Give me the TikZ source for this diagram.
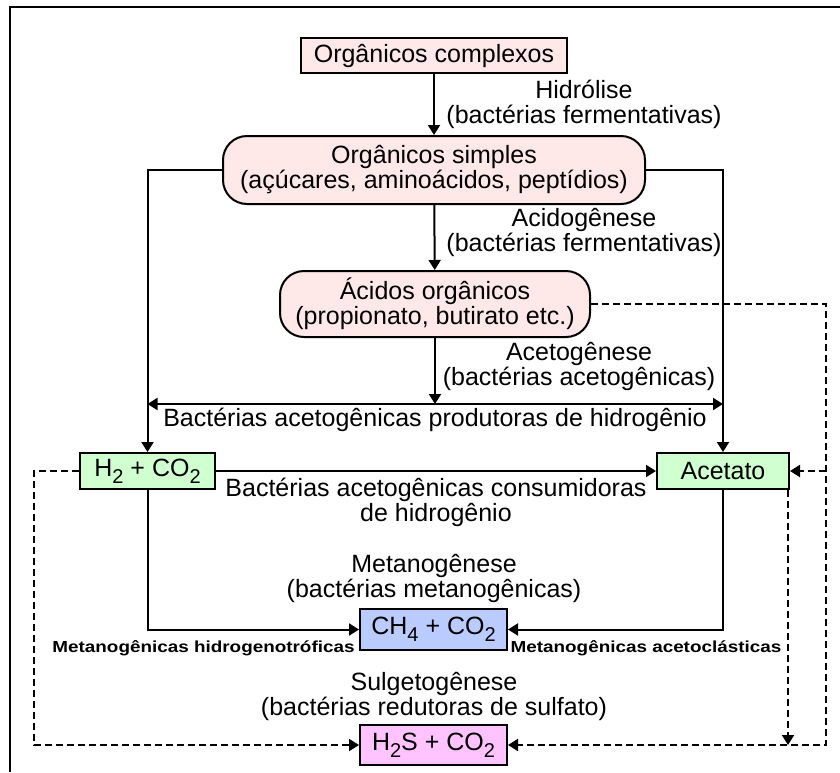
\documentclass[tikz,border=0pt]{standalone}
\usepackage{fontspec}
\setmainfont{Liberation Sans}
\newfontfamily\tagfont[FakeStretch=1.18]{Liberation Sans Bold}
\usetikzlibrary{arrows.meta,positioning,calc}
\definecolor{pinkfill}{RGB}{255,232,232}
\definecolor{greenfill}{RGB}{208,255,208}
\definecolor{bluefill}{RGB}{186,204,255}
\definecolor{magfill}{RGB}{255,196,255}
\newcommand{\lowsub}[1]{\raisebox{-0.5ex}{\fontsize{10}{10}\selectfont #1}}

\begin{document}
\begin{tikzpicture}[x=0.5pt, y=-0.5pt,
    every node/.style={font=\fontsize{12.5}{12.5}\selectfont, align=center},
    box/.style={draw, line width=1pt, inner sep=0pt},
    rbox/.style={box, rounded corners=12pt},
    lbl/.style={inner sep=0pt},
    tag/.style={inner sep=0pt, font=\tagfont\fontsize{8}{8}\selectfont},
    flow/.style={line width=1pt, -{Triangle[length=5pt,width=6pt]}},
    side/.style={flow, dash pattern=on 3.5pt off 2pt}]
    \useasboundingbox (0,0) rectangle (840,772);
    % frame
    \draw[line width=1pt] (10,772) -- (10,7) -- (840,7);
    % substrates and products
    \node[box, fill=pinkfill, minimum width=133pt, minimum height=17.5pt] (cplx) at (434,55.5) {Orgânicos complexos};
    \node[rbox, fill=pinkfill, minimum width=211pt, minimum height=34pt] (simp) at (434,170) {Orgânicos simples\\(açúcares, aminoácidos, peptídios)};
    \node[rbox, fill=pinkfill, minimum width=155pt, minimum height=33pt] (acid) at (435,304) {Ácidos orgânicos\\(propionato, butirato etc.)};
    \node[box, fill=greenfill, minimum width=67.5pt, minimum height=18pt] (htwo) at (147.5,471) {H\lowsub{2} + CO\lowsub{2}};
    \node[box, fill=greenfill, minimum width=66pt, minimum height=18pt] (acet) at (723,471) {Acetato};
    \node[box, fill=bluefill, minimum width=73.5pt, minimum height=20.5pt] (meth) at (433.5,629.5) {CH\lowsub{4} + CO\lowsub{2}};
    \node[box, fill=magfill, minimum width=73.5pt, minimum height=20pt] (sulf) at (433.5,745) {H\lowsub{2}S + CO\lowsub{2}};
    % process labels
    \node[lbl] (hidr) at (584,104.5) {Hidrólise\\(bactérias fermentativas)};
    \node[lbl] (acdg) at (584,232) {Acidogênese\\(bactérias fermentativas)};
    \node[lbl] (actg) at (579,366.5) {Acetogênese\\(bactérias acetogênicas)};
    \node[lbl] (prod) at (435,420) {Bactérias acetogênicas produtoras de hidrogênio};
    \node[lbl] (cons) at (436,502) {Bactérias acetogênicas consumidoras\\de hidrogênio};
    \node[lbl] (mtng) at (434,578.5) {Metanogênese\\(bactérias metanogênicas)};
    \node[lbl] (sulg) at (434,696.5) {Sulgetogênese\\(bactérias redutoras de sulfato)};
    \node[tag] (hydt) at (203.5,648) {Metanogênicas hidrogenotróficas};
    \node[tag] (acct) at (646,648) {Metanogênicas acetoclásticas};
    % helper points
    \coordinate (prodL) at (147.5,404);
    \coordinate (prodR) at (723,404);
    \coordinate (rgt) at (826,0);
    \coordinate (lft) at (34,0);
    % main flow
    \draw[flow] (cplx) -- (simp);
    \draw[flow] (simp) -- (acid);
    \draw[flow] (simp.west) -| (htwo.north);
    \draw[flow] (simp.east) -| (acet.north);
    \draw[flow] (acid.south) -- (acid.south |- prodL);
    \draw[flow, {Triangle[length=5pt,width=6pt]}-{Triangle[length=5pt,width=6pt]}] (prodL) -- (prodR);
    \draw[flow] (htwo) -- (acet);
    \draw[flow] (htwo.south) |- (meth.west);
    \draw[flow] (acet.south) |- (meth.east);
    % sulfate reduction routes
    \draw[side] (acid.east) -| (rgt |- sulf.east) -- (sulf.east);
    \draw[side] (rgt |- acet.east) -- (acet.east);
    \draw[side] ([xshift=-1pt]acet.south east) -- ([xshift=-1pt]acet.south east |- sulf.east);
    \draw[side] (htwo.west) -| (lft |- sulf.west) -- (sulf.west);
\end{tikzpicture}
\end{document}
